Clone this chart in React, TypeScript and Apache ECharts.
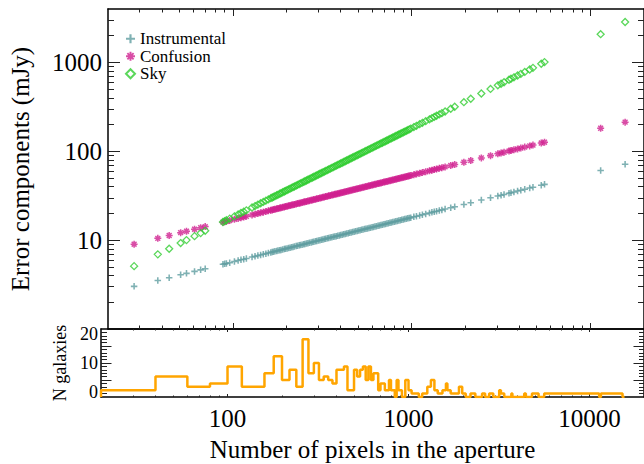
import React, { useEffect, useRef } from 'react';
import * as echarts from 'echarts';

// ---------- data ----------
const pixels = [28,38,44,51,55,61,66,70,88,90,92,96,102,107,111,115,119,128,133,138,143,148,153,158,
163,166,169,172,176,179,183,186,190,194,197,201,205,209,213,217,221,226,230,235,239,244,249,253,258,263,
268,274,279,284,290,295,301,307,313,319,325,331,338,344,351,358,365,372,379,386,394,401,409,417,425,433,
442,450,459,468,477,486,496,505,515,525,535,546,556,567,578,589,601,612,624,636,649,661,674,687,701,714,
728,742,757,771,786,802,817,833,849,866,882,900,917,935,953,971,990,
1030,1065,1110,1150,1200,1260,1300,1340,1380,1430,1478,
1541,1657,1744,1963,2145,2458,2767,3040,3170,3294,3511,3601,3741,3922,4089,4301,4585,4782,5321,5549,11440,15680];

const instrumental = [3.02,3.51,3.78,4.07,4.23,4.45,4.63,4.77,
5.35,5.41,5.47,5.58,5.76,5.90,6.01,6.11,6.22,
6.45,6.57,6.70,6.82,6.93,7.05,7.16,
7.28,7.34,7.41,7.48,7.56,7.63,7.71,7.77,7.86,7.94,8.00,8.08,8.16,8.24,8.32,8.40,8.47,8.57,8.64,8.74,
8.81,8.90,8.99,9.07,9.16,9.24,9.33,9.44,9.52,9.61,9.71,9.79,9.89,9.99,10.08,10.18,10.28,10.37,10.48,10.57,
10.68,10.78,10.89,10.99,11.10,11.20,11.31,11.41,11.53,11.64,11.75,11.86,11.98,12.09,12.21,12.33,12.45,12.57,
12.69,12.81,12.94,13.06,13.18,13.32,13.44,13.57,13.70,13.83,13.97,14.10,14.24,14.37,14.52,14.65,14.80,14.94,
15.09,15.23,15.38,15.53,15.68,15.83,15.98,16.14,16.29,16.45,16.61,16.77,16.93,17.10,17.26,17.43,17.60,17.76,17.93,
18.29,18.60,18.99,19.33,19.75,20.23,20.55,20.87,21.17,21.55,21.91,
22.38,23.20,23.80,25.25,26.40,28.26,29.98,31.43,32.09,32.71,33.77,34.20,34.86,35.70,36.45,37.38,38.60,39.42,41.58,42.46,
60.96,71.37];

const confusion = [9.00,10.48,11.28,12.14,12.61,13.28,13.81,14.22,
15.95,16.13,16.31,16.66,17.17,17.58,17.91,18.23,18.55,
19.23,19.61,19.97,20.33,20.68,21.03,21.37,
21.70,21.90,22.10,22.30,22.55,22.74,23.00,23.18,23.43,23.68,23.86,24.10,24.34,24.58,24.81,25.04,25.27,25.56,25.78,26.06,
26.28,26.55,26.83,27.04,27.31,27.57,27.83,28.14,28.40,28.65,28.95,29.20,29.49,29.79,30.08,30.36,30.65,30.93,31.25,31.53,
31.85,32.17,32.48,32.79,33.10,33.40,33.74,34.04,34.38,34.72,35.05,35.37,35.74,36.06,36.42,36.78,37.13,37.48,
37.86,38.20,38.58,38.95,39.32,39.72,40.09,40.48,40.87,41.26,41.68,42.06,42.47,42.87,43.31,43.71,44.14,44.56,
45.01,45.43,45.87,46.31,46.77,47.20,47.66,48.14,48.59,49.07,49.53,50.03,50.49,51.00,51.48,51.98,52.48,52.97,53.49,
54.56,55.48,56.64,57.65,58.89,60.34,61.29,62.23,63.15,64.29,65.36,
66.73,69.20,70.99,75.32,78.73,84.28,89.42,93.73,95.71,97.57,100.7,102.0,104.0,106.5,108.7,111.5,115.1,117.6,124.0,126.6,
181.8,212.9];

const sky = [5.10,6.92,8.01,9.28,10.01,11.10,12.01,12.74,
16.02,16.38,16.74,17.47,18.56,19.47,20.20,20.93,21.66,
23.30,24.21,25.12,26.03,26.94,27.85,28.76,
29.67,30.21,30.76,31.30,32.03,32.58,33.31,33.85,34.58,35.31,35.85,36.58,37.31,38.04,38.77,39.49,40.22,41.13,41.86,42.77,
43.50,44.41,45.32,46.05,46.96,47.87,48.78,49.87,50.78,51.69,52.78,53.69,54.78,55.87,56.97,58.06,59.15,60.24,61.52,62.61,
63.88,65.16,66.43,67.70,68.98,70.25,71.71,72.98,74.44,75.89,77.35,78.81,80.44,81.90,83.54,85.18,86.81,88.45,
90.27,91.91,93.73,95.55,97.37,99.37,101.2,103.2,105.2,107.2,109.4,111.4,113.6,115.8,118.1,120.3,122.7,125.0,
127.6,129.9,132.5,135.0,137.8,140.3,143.1,146.0,148.7,151.6,154.5,157.6,160.5,163.8,166.9,170.2,173.4,176.7,180.2,
187.5,193.8,202.0,209.3,218.4,229.3,236.6,243.9,251.2,260.3,269.0,
280.5,301.6,317.4,357.3,390.4,447.4,503.6,553.3,576.9,599.5,639.0,655.4,680.9,713.8,744.2,782.8,834.5,870.3,968.4,1010,
2082,2854];

// histogram: bin edges (one more than counts) and galaxy counts
const histEdges = [20,40,60,80,100,120,160,180,200,220,240,260,280,300,320,340,360,380,400,440,460,500,520,540,560,580,
600,620,640,680,700,740,780,800,840,860,880,920,960,1000,1040,1140,1190,1270,1330,1390,1450,1540,1610,1640,1710,1900,
1980,2070,2200,2340,2550,2650,2790,2940,3170,3240,3380,3700,3750,4360,4450,4810,5230,5620,11310,11560,15220,15610];
const histCounts = [2,6,3,4,9,3,7,12,5,8,3,17,7,10,5,6,5,4,8,9,2,8,6,8,9,5,
9,5,7,2,4,2,5,2,0,5,2,0,5,2,1,0,1,3,5,2,1,2,4,2,1,3,
1,0,1,0,1,0,1,0,2,1,0,1,0,1,0,1,0,1,0,1,0];

const xRange = [20, 20000];
const yRangeTop = [1, 4000];
const yRangeBottom = [0, 20];
const xTickLabels = [100, 1000, 10000];
const yTickLabelsTop = [10, 100, 1000];
const yTickLabelsBottom = [0, 10, 20];

const FONT = "'Liberation Serif', 'Times New Roman', serif";
const PLUS = 'path://M3.8,0L6.2,0L6.2,3.8L10,3.8L10,6.2L6.2,6.2L6.2,10L3.8,10L3.8,6.2L0,6.2L0,3.8L3.8,3.8Z';
const STAR = 'path://M3.9,0L6.1,0L6.1,10L3.9,10ZM0,3.9L10,3.9L10,6.1L0,6.1ZM0.8,2.3L2.3,0.8L9.2,7.7L7.7,9.2ZM7.7,0.8L9.2,2.3L2.3,9.2L0.8,7.7Z';
const C_INST = '#5F9EA0';
const C_CONF = '#D02090';
const C_SKY = '#32CD32';
const C_HIST = '#FFA500';

const L = Math.log10;

function logTicks(lo: number, hi: number) {
  const major: number[] = [];
  const minor: number[] = [];
  for (let d = 1; d <= 1e5; d *= 10) {
    for (let m = 1; m < 10; m++) {
      const v = m * d;
      if (v > lo * 1.0001 && v < hi * 0.9999) {
        if (m === 1) major.push(L(v));
        else minor.push(L(v));
      }
    }
  }
  return { major, minor };
}

function tickAxis(gridIndex: number, position: string, min: number, max: number, values: number[], len: number, extra: any = {}) {
  return {
    type: 'value',
    gridIndex,
    position,
    min,
    max,
    axisLine: { show: !!extra.line, onZero: false, lineStyle: { color: '#000', width: 1.5 } },
    axisTick: { show: true, inside: true, length: len, customValues: values, lineStyle: { color: '#222', width: 1 } },
    axisLabel: extra.label || { show: false },
    splitLine: { show: false },
    ...(extra.name || {}),
  };
}

export default function App() {
  const ref = useRef<HTMLDivElement>(null);

  useEffect(() => {
    if (!ref.current) return;
    const chart = echarts.init(ref.current, null, { renderer: 'svg' });

    const xl = [L(xRange[0]), L(xRange[1])];
    const yl = [L(yRangeTop[0]), L(yRangeTop[1])];
    const xt = logTicks(xRange[0], xRange[1]);
    const yt = logTicks(yRangeTop[0], yRangeTop[1]);
    const bMajor = [5, 10, 15];
    const bMinor: number[] = [];
    for (let v = 1; v < 20; v++) if (v % 5 !== 0) bMinor.push(v);

    const G0 = { left: 101, top: 9, width: 543, height: 320 };
    const G1 = { left: 101, top: 329, width: 543, height: 68 };

    const histData: number[][] = [[histEdges[0], 0]];
    histCounts.forEach((c, i) => histData.push([histEdges[i], c]));
    histData.push([histEdges[histEdges.length - 1], 0]);

    const labelBase = { fontFamily: FONT, color: '#000' };

    const option: any = {
      animation: false,
      backgroundColor: '#fff',
      textStyle: { fontFamily: FONT },
      grid: [G0, G1],
      legend: {
        orient: 'vertical',
        left: 120,
        top: 25,
        itemWidth: 9,
        itemHeight: 9,
        itemGap: 0,
        selectedMode: false,
        textStyle: { fontFamily: FONT, fontSize: 17, color: '#000', lineHeight: 17.5 },
        data: [
          { name: 'Instrumental', icon: PLUS },
          { name: 'Confusion', icon: STAR },
          { name: 'Sky', icon: 'diamond' },
        ],
      },
      xAxis: [
        { type: 'log', gridIndex: 0, min: xRange[0], max: xRange[1], show: false },
        { type: 'log', gridIndex: 1, min: xRange[0], max: xRange[1], show: false },
        tickAxis(0, 'bottom', xl[0], xl[1], xt.major, 6, { line: true }),
        tickAxis(0, 'bottom', xl[0], xl[1], xt.minor, 3.5),
        tickAxis(0, 'top', xl[0], xl[1], xt.major, 7, { line: true }),
        tickAxis(0, 'top', xl[0], xl[1], xt.minor, 3.5),
        tickAxis(1, 'bottom', xl[0], xl[1], xt.major, 3, {
          line: true,
          label: {
            show: true,
            customValues: xTickLabels.map(L),
            formatter: (v: number) => String(Math.round(Math.pow(10, v))),
            fontSize: 25,
            margin: 9,
            ...labelBase,
          },
          name: {
            name: 'Number of pixels in the aperture',
            nameLocation: 'middle',
            nameGap: 40,
            nameTextStyle: { fontSize: 25, ...labelBase },
          },
        }),
        tickAxis(1, 'bottom', xl[0], xl[1], xt.minor, 1.5),
        tickAxis(1, 'top', xl[0], xl[1], xt.major, 3, { line: true }),
        tickAxis(1, 'top', xl[0], xl[1], xt.minor, 1.5),
      ],
      yAxis: [
        { type: 'log', gridIndex: 0, min: yRangeTop[0], max: yRangeTop[1], show: false },
        { type: 'value', gridIndex: 1, min: yRangeBottom[0], max: yRangeBottom[1], show: false },
        tickAxis(0, 'left', yl[0], yl[1], yt.major, 12, {
          line: true,
          label: {
            show: true,
            customValues: yTickLabelsTop.map(L),
            formatter: (v: number) => String(Math.round(Math.pow(10, v))),
            fontSize: 25,
            margin: 6,
            ...labelBase,
          },
          name: {
            name: 'Error components (mJy)',
            nameLocation: 'middle',
            nameGap: 75,
            nameRotate: 90,
            nameTextStyle: { fontSize: 25, ...labelBase },
          },
        }),
        tickAxis(0, 'left', yl[0], yl[1], yt.minor, 6),
        tickAxis(0, 'right', yl[0], yl[1], yt.major, 12, { line: true }),
        tickAxis(0, 'right', yl[0], yl[1], yt.minor, 6),
        tickAxis(1, 'left', yRangeBottom[0], yRangeBottom[1], bMajor, 10.5, {
          line: true,
          label: {
            show: true,
            // the end labels sit just inside the panel, as in the reference
            customValues: [1.4, yTickLabelsBottom[1], 18.6],
            formatter: (v: number) => String(yTickLabelsBottom[Math.round(v / 10)]),
            fontSize: 18,
            margin: 3,
            ...labelBase,
          },
          name: {
            name: 'N galaxies',
            nameLocation: 'middle',
            nameGap: 29,
            nameRotate: 90,
            nameTextStyle: { fontSize: 18, ...labelBase },
          },
        }),
        tickAxis(1, 'left', yRangeBottom[0], yRangeBottom[1], bMinor, 6),
        tickAxis(1, 'right', yRangeBottom[0], yRangeBottom[1], bMajor, 10.5, { line: true }),
        tickAxis(1, 'right', yRangeBottom[0], yRangeBottom[1], bMinor, 5),
      ],
      series: [
        {
          name: 'Instrumental',
          type: 'scatter',
          xAxisIndex: 0,
          yAxisIndex: 0,
          symbol: PLUS,
          symbolSize: 6.5,
          itemStyle: { color: C_INST },
          data: pixels.map((n, i) => [n, instrumental[i]]),
        },
        {
          name: 'Confusion',
          type: 'scatter',
          xAxisIndex: 0,
          yAxisIndex: 0,
          symbol: STAR,
          symbolSize: 7,
          itemStyle: { color: C_CONF },
          data: pixels.map((n, i) => [n, confusion[i]]),
        },
        {
          name: 'Sky',
          type: 'scatter',
          xAxisIndex: 0,
          yAxisIndex: 0,
          symbol: 'diamond',
          symbolSize: 7,
          itemStyle: { color: 'rgba(255,255,255,0)', borderColor: C_SKY, borderWidth: 1.3 },
          data: pixels.map((n, i) => [n, sky[i]]),
        },
        {
          name: 'Histogram',
          type: 'line',
          xAxisIndex: 1,
          yAxisIndex: 1,
          step: 'end',
          symbol: 'none',
          lineStyle: { color: C_HIST, width: 2.5 },
          data: histData,
        },
      ],
    };

    chart.setOption(option);
    return () => chart.dispose();
  }, []);

  return (
    <div
      ref={ref}
      style={{ position: 'fixed', left: 0, top: 0, width: 644, height: 464, background: '#fff' }}
    />
  );
}
